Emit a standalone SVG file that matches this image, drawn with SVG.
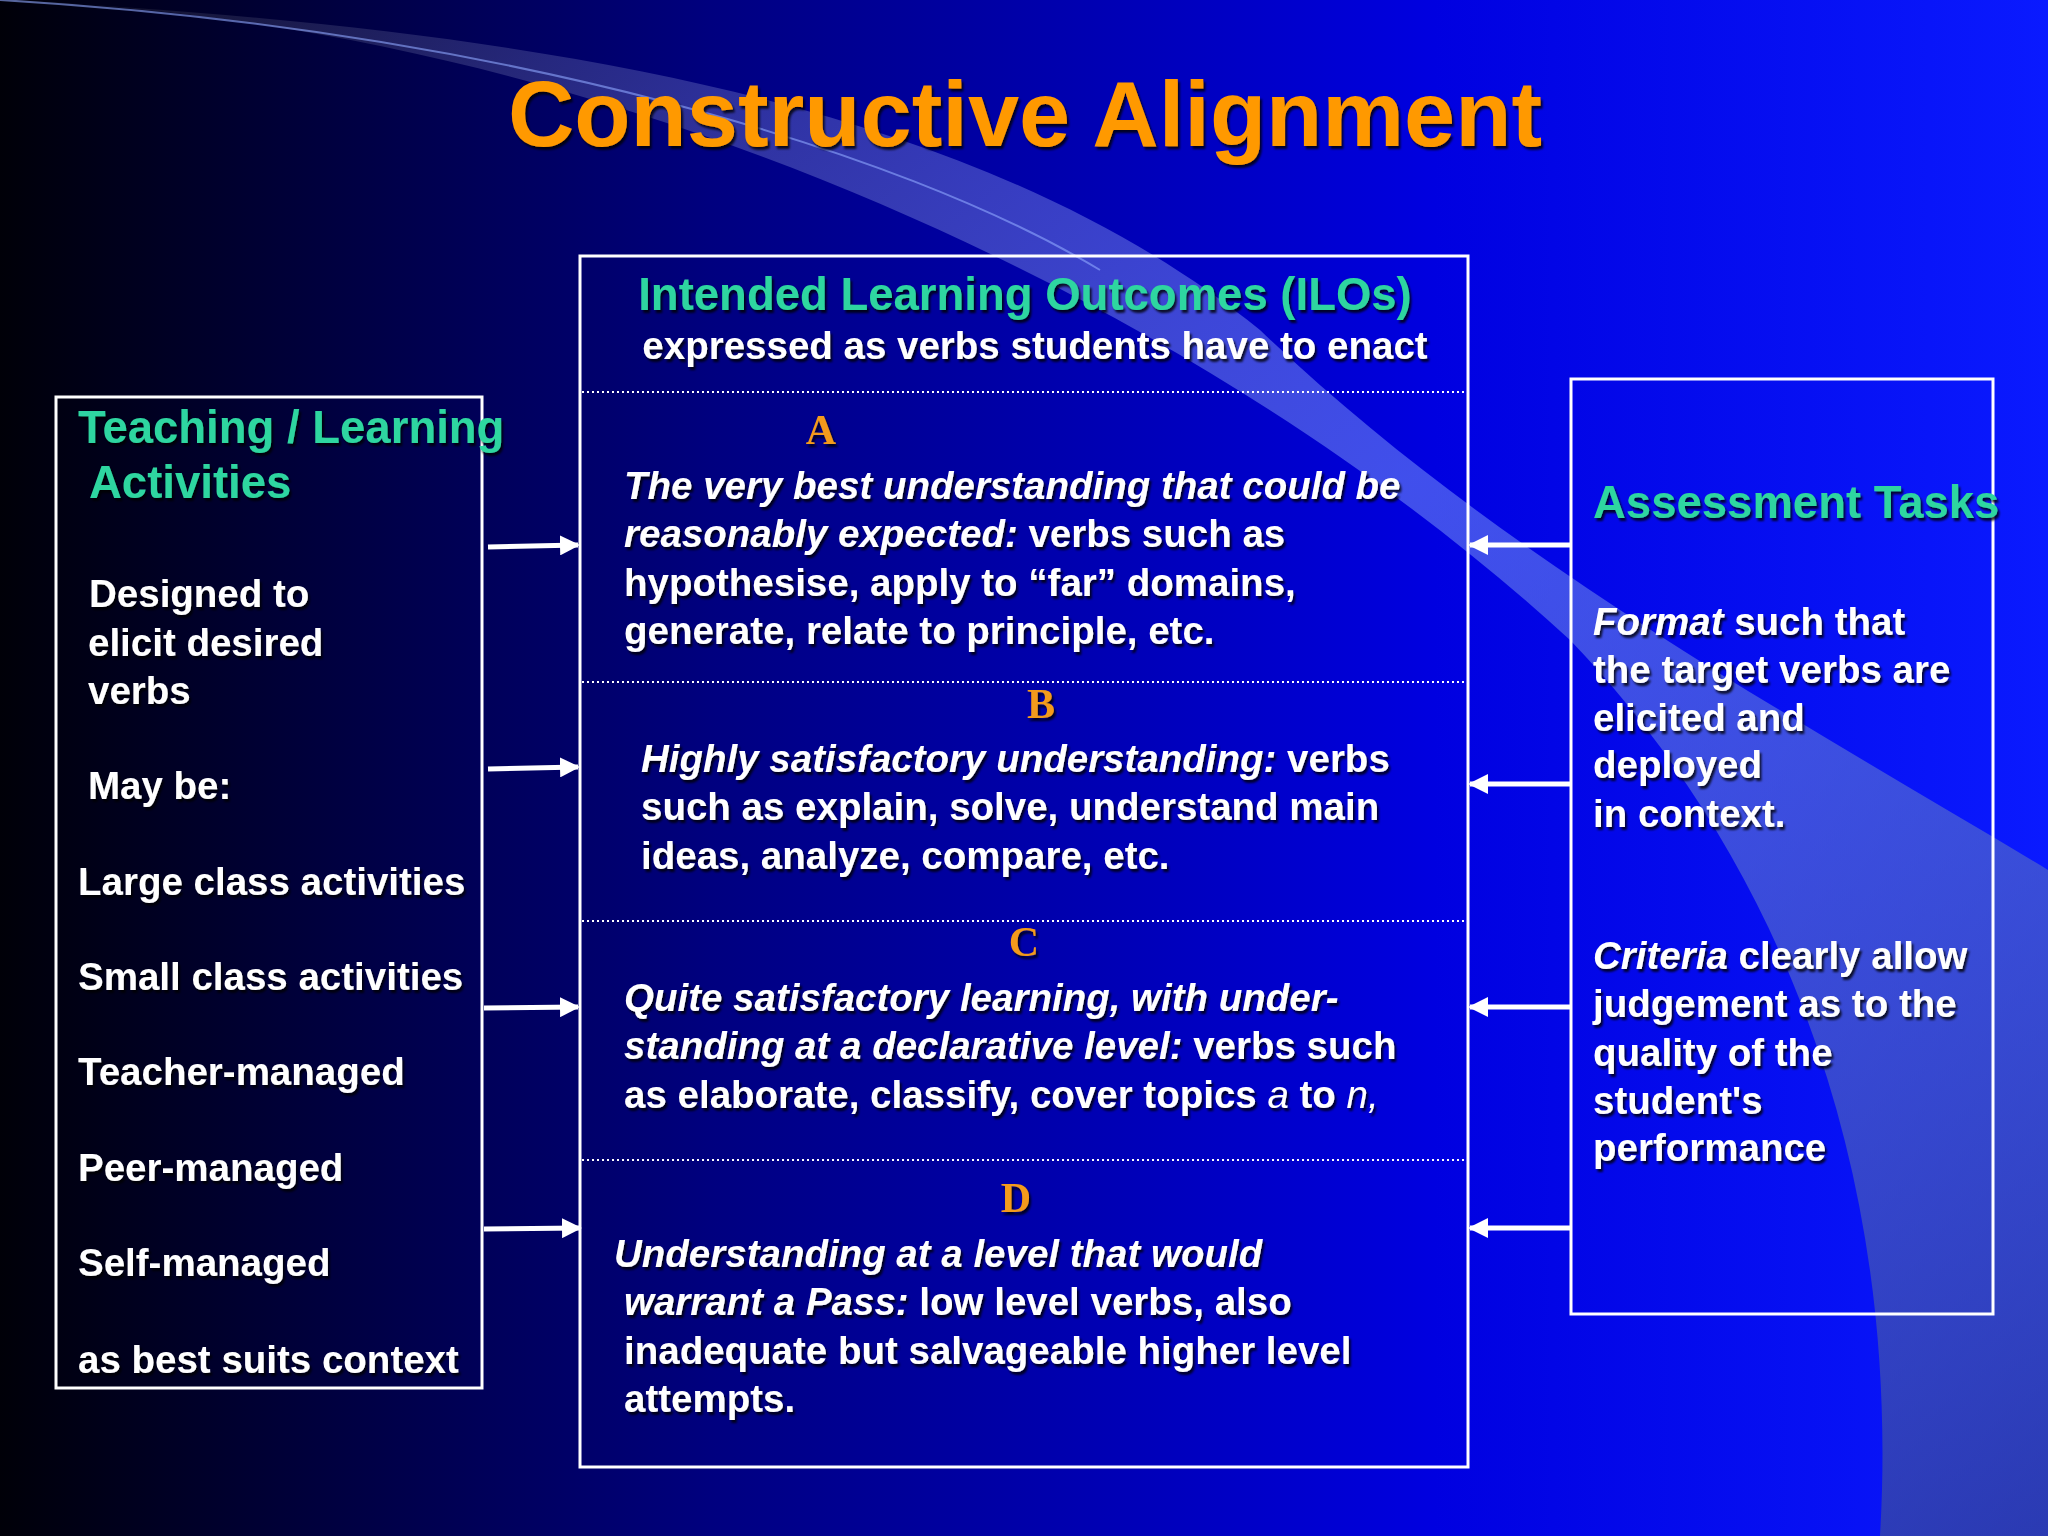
<svg xmlns="http://www.w3.org/2000/svg" width="2048" height="1536" viewBox="0 0 2048 1536">
<defs>
<linearGradient id="bg" x1="0" y1="0" x2="1" y2="0">
<stop offset="0" stop-color="#000008"/><stop offset="0.35" stop-color="#000080"/><stop offset="0.7" stop-color="#0000e0"/><stop offset="1" stop-color="#0a1aff"/>
</linearGradient>
<linearGradient id="sw" x1="0" y1="0" x2="1" y2="1">
<stop offset="0" stop-color="#ffffff" stop-opacity="0.05"/><stop offset="0.5" stop-color="#8fb0ff" stop-opacity="0.45"/><stop offset="1" stop-color="#405080" stop-opacity="0.6"/>
</linearGradient>
<filter id="sh" x="-5%" y="-20%" width="110%" height="140%"><feDropShadow dx="2" dy="3" stdDeviation="1" flood-color="#000" flood-opacity="0.8"/></filter>
<marker id="ah" viewBox="0 0 10 10" refX="9" refY="5" markerWidth="4" markerHeight="4" orient="auto"><path d="M0,0 L10,5 L0,10 Z" fill="#fff"/></marker>
<style>
text{font-family:"Liberation Sans",Arial,sans-serif;font-weight:bold;fill:#fff;font-size:38.5px;filter:url(#sh)}
.h{fill:#2ed6a0;font-size:45.5px}
.l{fill:#f39a1a;font-family:"Liberation Serif","Times New Roman",serif;font-size:42px}
.box{fill:none;stroke:#fff;stroke-width:3}
.dot{stroke:#fff;stroke-width:2;stroke-dasharray:2 3}
.arr{stroke:#fff;stroke-width:5;fill:none;marker-end:url(#ah)}
</style>
</defs>
<rect width="2048" height="1536" fill="url(#bg)"/>
<path d="M0 0 C600 20 1200 300 1570 640 C1800 880 1900 1200 1880 1536 L2048 1536 L2048 870 C1800 720 1500 560 1260 330 C1000 120 600 30 0 0 Z" fill="url(#sw)"/>
<path d="M0 0 C500 30 900 150 1100 270" fill="none" stroke="#8fa8ff" stroke-opacity="0.6" stroke-width="2"/>
<text x="1025" y="146" text-anchor="middle" style="font-size:92px;fill:#ff9900">Constructive Alignment</text>
<g id="ilos">
<rect class="box" x="580" y="256" width="888" height="1211"/>
<line class="dot" x1="582" y1="392" x2="1466" y2="392"/>
<line class="dot" x1="582" y1="682" x2="1466" y2="682"/>
<line class="dot" x1="582" y1="921" x2="1466" y2="921"/>
<line class="dot" x1="582" y1="1160" x2="1466" y2="1160"/>
<text class="h" x="1025" y="310" text-anchor="middle">Intended Learning Outcomes (ILOs)</text>
<text x="1035" y="359" text-anchor="middle">expressed as verbs students have to enact</text>
<text class="l" x="821" y="444" text-anchor="middle">A</text>
<text x="624" y="499"><tspan font-style="italic">The very best understanding that could be</tspan></text>
<text x="624" y="547"><tspan font-style="italic">reasonably expected:</tspan> verbs such as</text>
<text x="624" y="596">hypothesise, apply to “far” domains,</text>
<text x="624" y="644">generate, relate to principle, etc.</text>
<text class="l" x="1041" y="718" text-anchor="middle">B</text>
<text x="641" y="772"><tspan font-style="italic">Highly satisfactory understanding:</tspan>  verbs</text>
<text x="641" y="820">such as explain, solve, understand main</text>
<text x="641" y="869">ideas, analyze, compare, etc.</text>
<text class="l" x="1024" y="956" text-anchor="middle">C</text>
<text x="624" y="1011" font-style="italic">Quite satisfactory learning, with under-</text>
<text x="624" y="1059"><tspan font-style="italic">standing at a declarative level:</tspan> verbs such</text>
<text x="624" y="1108">as elaborate, classify, cover topics <tspan font-style="italic" font-weight="normal">a</tspan> to <tspan font-style="italic" font-weight="normal">n,</tspan></text>
<text class="l" x="1016" y="1212" text-anchor="middle">D</text>
<text x="614" y="1267" font-style="italic">Understanding at a level that would</text>
<text x="624" y="1315"><tspan font-style="italic">warrant a Pass:</tspan> low level verbs, also</text>
<text x="624" y="1364">inadequate but salvageable higher level</text>
<text x="624" y="1412">attempts.</text>
</g>
<g id="tla">
<rect class="box" x="56" y="397" width="426" height="991"/>
<text class="h" x="78" y="443">Teaching / Learning</text>
<text class="h" x="89" y="498">Activities</text>
<text x="89" y="607">Designed to</text>
<text x="88" y="656">elicit desired</text>
<text x="88" y="704">verbs</text>
<text x="88" y="799">May be:</text>
<text x="78" y="895">Large class activities</text>
<text x="78" y="990">Small class activities</text>
<text x="78" y="1085">Teacher-managed</text>
<text x="78" y="1181">Peer-managed</text>
<text x="78" y="1276">Self-managed</text>
<text x="78" y="1373">as best suits context</text>
</g>
<g id="assess">
<rect class="box" x="1571" y="379" width="422" height="935"/>
<text class="h" x="1593" y="518">Assessment Tasks</text>
<text x="1593" y="635"><tspan font-style="italic">Format</tspan> such that</text>
<text x="1593" y="683">the target verbs are</text>
<text x="1593" y="731">elicited and</text>
<text x="1593" y="778">deployed</text>
<text x="1593" y="827">in context.</text>
<text x="1593" y="969"><tspan font-style="italic">Criteria</tspan> clearly allow</text>
<text x="1593" y="1017">judgement as to the</text>
<text x="1593" y="1066">quality of the</text>
<text x="1593" y="1114">student's</text>
<text x="1593" y="1161">performance</text>
</g>
<g id="connectors">
<path class="arr" d="M488 547 L578 545"/>
<path class="arr" d="M488 769 L578 767"/>
<path class="arr" d="M484 1008 L578 1007"/>
<path class="arr" d="M484 1229 L580 1228"/>
<path class="arr" d="M1571 545 L1470 545"/>
<path class="arr" d="M1571 784 L1470 784"/>
<path class="arr" d="M1571 1007 L1470 1007"/>
<path class="arr" d="M1571 1228 L1470 1228"/>
</g>
</svg>
